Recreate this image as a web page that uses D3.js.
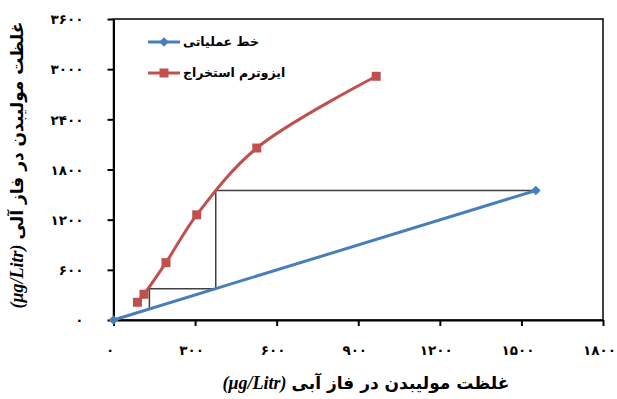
<!DOCTYPE html>
<html><head><meta charset="utf-8">
<script src="https://cdn.jsdelivr.net/npm/d3@7"></script>
<style>
html,body{margin:0;padding:0;background:#fff;}
svg{display:block;}
</style></head>
<body>
<svg id="chart" width="617" height="399"></svg>
<script>
// ---- data ----
const xTicks = [0, 300, 600, 900, 1200, 1500, 1800];
const yTicks = [0, 600, 1200, 1800, 2400, 3000, 3600];
const opX = [0, 1553];
const opY = [0, 1549];
const isoX = [88, 112, 193, 306, 527, 966];
const isoY = [212, 308, 686, 1258, 2057, 2915];
const stepX = [1553, 376, 376, 132, 132];
const stepY = [1549, 1549, 375, 375, 132];
const legendNames = ["خط عملیاتی", "ایزوترم استخراج"];
const xTitle = "غلظت مولیبدن در فاز آبی";
const yTitle = "غلظت مولیبدن در فاز آلی";
const unitText = "(μg/Litr)";

const fa = n => String(n).replace(/\d/g, d => "۰۱۲۳۴۵۶۷۸۹"[d]);

const svg = d3.select("#chart");
const x = d3.scaleLinear().domain([0, 1800]).range([113.5, 603]);
const y = d3.scaleLinear().domain([0, 3600]).range([320, 19]);
const blue = "#4a7ebb", red = "#c0504d";
const arFont = "DejaVu Sans";

// frame
svg.append("rect").attr("x", x(0)).attr("y", y(3600))
  .attr("width", x(1800) - x(0)).attr("height", y(0) - y(3600))
  .attr("fill", "none").attr("stroke", "#000").attr("stroke-width", 1.5);

// axes
const xAxis = svg.append("g").attr("transform", `translate(0,${y(0)})`)
  .call(d3.axisBottom(x).tickValues(xTicks).tickSize(6).tickSizeOuter(0).tickFormat(fa));
const yAxis = svg.append("g").attr("transform", `translate(${x(0)},0)`)
  .call(d3.axisLeft(y).tickValues(yTicks).tickSize(6).tickSizeOuter(0).tickFormat(fa));
[xAxis, yAxis].forEach(g => {
  g.select(".domain").attr("stroke", "#000").attr("stroke-width", 2);
  g.selectAll(".tick line").attr("stroke", "#000").attr("stroke-width", 2);
  g.selectAll(".tick text").attr("fill", "#000").attr("font-family", arFont)
    .attr("font-weight", "bold").attr("font-size", 13.5);
});
xAxis.selectAll(".tick text").attr("dy", 0).attr("y", 35).attr("x", -4);
yAxis.selectAll(".tick text").attr("x", -30).attr("dy", "0.35em");

// staircase
const stepPts = stepX.map((d, i) => [x(d), y(stepY[i])]);
svg.append("path").attr("d", d3.line()(stepPts))
  .attr("fill", "none").attr("stroke", "#404040").attr("stroke-width", 1.5);

// operating line
const opPts = opX.map((d, i) => [x(d), y(opY[i])]);
svg.append("path").attr("d", d3.line()(opPts))
  .attr("fill", "none").attr("stroke", blue).attr("stroke-width", 3);
const diamond = d3.symbol().type(d3.symbolDiamond2).size(60);
svg.selectAll(".op").data(opPts).join("path")
  .attr("transform", d => `translate(${d[0]},${d[1]})`)
  .attr("d", diamond).attr("fill", blue);

// isotherm
const isoPts = isoX.map((d, i) => [x(d), y(isoY[i])]);
svg.append("path").attr("d", d3.line().curve(d3.curveCatmullRom.alpha(0.5))(isoPts))
  .attr("fill", "none").attr("stroke", red).attr("stroke-width", 3);
svg.selectAll(".iso").data(isoPts).join("rect")
  .attr("x", d => d[0] - 4.5).attr("y", d => d[1] - 4.5)
  .attr("width", 9).attr("height", 9).attr("fill", red);

// legend
const lg = svg.append("g");
[[blue, 42, "d"], [red, 73, "s"]].forEach(([c, ly, m], i) => {
  lg.append("line").attr("x1", 148).attr("x2", 180).attr("y1", ly).attr("y2", ly)
    .attr("stroke", c).attr("stroke-width", 3);
  if (m === "d") lg.append("path").attr("transform", `translate(164,${ly})`).attr("d", diamond).attr("fill", c);
  else lg.append("rect").attr("x", 159.5).attr("y", ly - 4.5).attr("width", 9).attr("height", 9).attr("fill", c);
  lg.append("text").attr("x", 183).attr("y", ly + 4).text(legendNames[i])
    .attr("font-family", arFont).attr("font-weight", "bold").attr("font-size", 12.5).attr("fill", "#000");
});

// titles: arabic + unit
function title(g, cx, cy, ar, fs) {
  const t1 = g.append("text").text(ar).attr("font-family", arFont).attr("font-weight", "bold")
    .attr("font-size", fs).attr("fill", "#000");
  const t2 = g.append("text").text(unitText).attr("font-family", "Liberation Serif")
    .attr("font-style", "italic").attr("font-weight", "bold").attr("font-size", fs + 1).attr("fill", "#000");
  const w1 = t1.node().getComputedTextLength(), w2 = t2.node().getComputedTextLength();
  const gap = 5, total = w1 + w2 + gap;
  const left = cx - total / 2;
  t2.attr("x", left).attr("y", cy);
  t1.attr("x", left + w2 + gap).attr("y", cy);
}
title(svg.append("g"), 366, 389, xTitle, 17);
title(svg.append("g").attr("transform", "rotate(-90)"), -165, 23, yTitle, 17);
</script>
</body></html>
